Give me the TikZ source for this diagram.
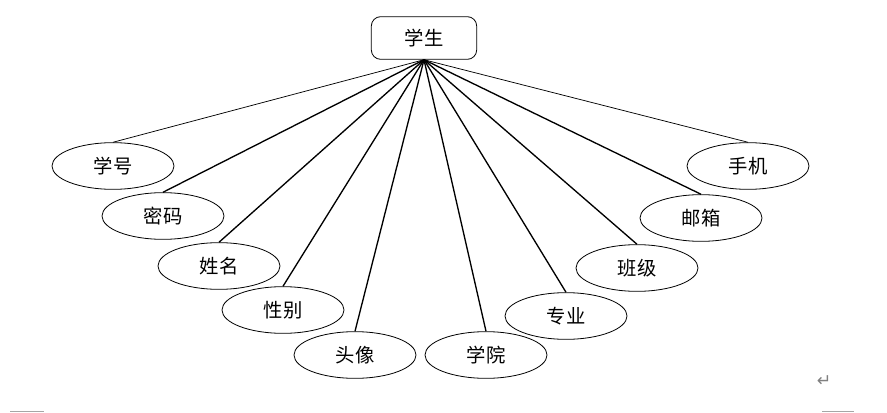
\documentclass[tikz,border=0pt]{standalone}
\usepackage{fontspec}
\setmainfont{Noto Sans CJK SC}
\newfontfamily\symfont{DejaVu Sans}
\usetikzlibrary{shapes.geometric}

\begin{document}
\begin{tikzpicture}[x=0.75pt,y=-0.75pt,
    entity/.style={draw,line width=0.6pt,rounded corners=7pt,minimum width=79pt,minimum height=32pt,font=\fontsize{14.5}{17}\selectfont},
    attr/.style={draw,ellipse,line width=0.6pt,inner sep=0pt,minimum width=91.5pt,minimum height=35pt,font=\fontsize{14.5}{17}\selectfont},
    link/.style={line width=1pt},
    thinlink/.style={line width=0.55pt}]
    \useasboundingbox (0,0) rectangle (887,413);

    \node[entity](stu) at (424,38) {学生};

    \node[attr](xh) at (113,166) {学号};
    \node[attr](mm) at (163,216) {密码};
    \node[attr](xm) at (219,266) {姓名};
    \node[attr](xb) at (283,310) {性别};
    \node[attr](tx) at (355,355) {头像};
    \node[attr](xy) at (486,355) {学院};
    \node[attr](zy) at (566,316) {专业};
    \node[attr](bj) at (637,268) {班级};
    \node[attr](yx) at (701,218) {邮箱};
    \node[attr](sj) at (748,166) {手机};

    \draw[thinlink] (stu.south) -- (xh.north);
    \draw[link] (stu.south) -- (mm.north);
    \draw[link] (stu.south) -- (xm.north);
    \draw[link] (stu.south) -- (xb.north);
    \draw[link] (stu.south) -- (tx.north);
    \draw[link] (stu.south) -- (xy.north);
    \draw[link] (stu.south) -- (zy.north);
    \draw[link] (stu.south) -- (bj.north);
    \draw[link] (stu.south) -- (yx.north);
    \draw[thinlink] (stu.south) -- (sj.north);

    \node[text=gray,font=\symfont\fontsize{13}{15}\selectfont](ret) at (824,381) {↵};
    \draw[gray!70,line width=0.8pt] (10,411.5) -- (44,411.5);
    \draw[gray!70,line width=0.8pt] (822,411.5) -- (854,411.5);
\end{tikzpicture}
\end{document}
